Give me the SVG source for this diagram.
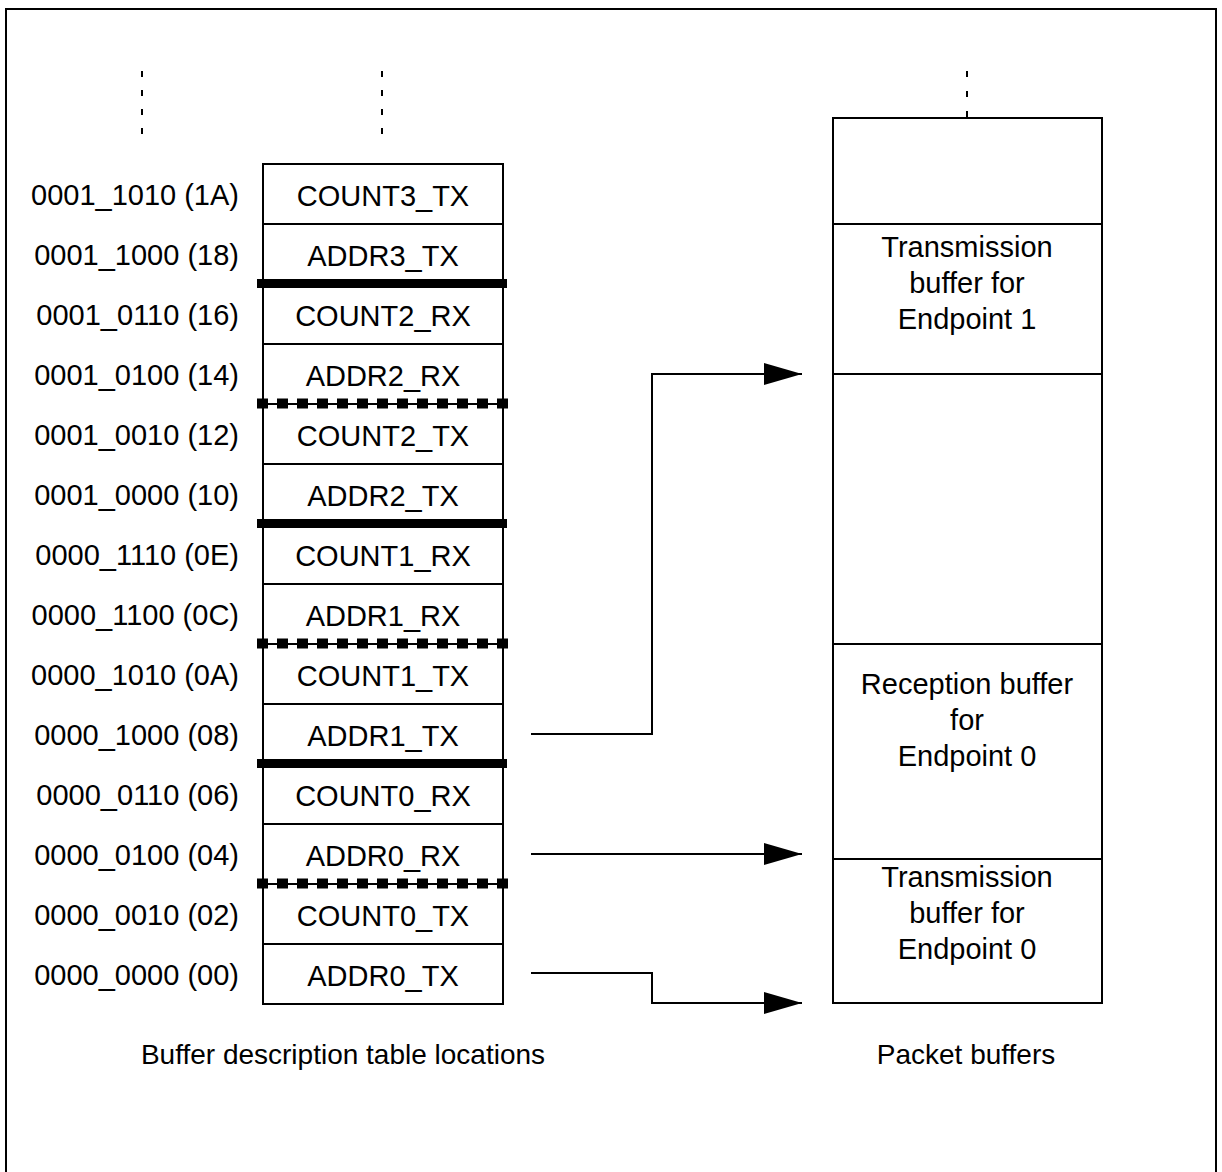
<svg xmlns="http://www.w3.org/2000/svg" width="1222" height="1172" viewBox="0 0 1222 1172">
<defs>
<style>
text{font-family:"Liberation Sans",Arial,sans-serif;font-size:29px;fill:#000}
.addr{text-anchor:end}
.mid{text-anchor:middle}
.cap{font-size:28px}
.box{fill:none;stroke:#000;stroke-width:2}
.thin{stroke:#000;stroke-width:2;fill:none}
.dots{stroke:#000;stroke-width:2;stroke-dasharray:6 13;fill:none}
.thick{stroke:#000;stroke-width:9}
.sq{stroke:#000;stroke-width:10;stroke-dasharray:11 9}
.conn{stroke:#000;stroke-width:2;fill:none;marker-end:url(#arr)}
</style>
<marker id="arr" markerUnits="userSpaceOnUse" markerWidth="38" markerHeight="22" refX="38" refY="11" orient="auto">
<path d="M0,0 L38,11 L0,22 z" fill="#000"/>
</marker>
</defs>
<rect x="6" y="9" width="1210" height="1175" fill="#fff" stroke="#000" stroke-width="2"/>
<path class="dots" d="M142,71 V136 M382,71 V136"/>
<path class="dots" d="M967,71 V118" style="stroke-dasharray:6 14"/>
<g id="addresses">
<text class="addr" x="239" y="205">0001_1010 (1A)</text>
<text class="addr" x="239" y="265">0001_1000 (18)</text>
<text class="addr" x="239" y="325">0001_0110 (16)</text>
<text class="addr" x="239" y="385">0001_0100 (14)</text>
<text class="addr" x="239" y="445">0001_0010 (12)</text>
<text class="addr" x="239" y="505">0001_0000 (10)</text>
<text class="addr" x="239" y="565">0000_1110 (0E)</text>
<text class="addr" x="239" y="625">0000_1100 (0C)</text>
<text class="addr" x="239" y="685">0000_1010 (0A)</text>
<text class="addr" x="239" y="745">0000_1000 (08)</text>
<text class="addr" x="239" y="805">0000_0110 (06)</text>
<text class="addr" x="239" y="865">0000_0100 (04)</text>
<text class="addr" x="239" y="925">0000_0010 (02)</text>
<text class="addr" x="239" y="985">0000_0000 (00)</text>
</g>
<g id="bdt">
<rect class="box" x="263" y="164" width="240" height="840"/>
<path class="thin" d="M263,224 H503 M263,344 H503 M263,464 H503 M263,584 H503 M263,704 H503 M263,824 H503 M263,944 H503 M263,404 H503 M263,644 H503 M263,884 H503"/>
<path class="thick" d="M257,283.5 H507 M257,523.5 H507 M257,763.5 H507"/>
<path class="sq" d="M257,403.5 H508 M257,643.5 H508 M257,883.5 H508"/>
<text class="mid" x="383" y="206">COUNT3_TX</text>
<text class="mid" x="383" y="266">ADDR3_TX</text>
<text class="mid" x="383" y="326">COUNT2_RX</text>
<text class="mid" x="383" y="386">ADDR2_RX</text>
<text class="mid" x="383" y="446">COUNT2_TX</text>
<text class="mid" x="383" y="506">ADDR2_TX</text>
<text class="mid" x="383" y="566">COUNT1_RX</text>
<text class="mid" x="383" y="626">ADDR1_RX</text>
<text class="mid" x="383" y="686">COUNT1_TX</text>
<text class="mid" x="383" y="746">ADDR1_TX</text>
<text class="mid" x="383" y="806">COUNT0_RX</text>
<text class="mid" x="383" y="866">ADDR0_RX</text>
<text class="mid" x="383" y="926">COUNT0_TX</text>
<text class="mid" x="383" y="986">ADDR0_TX</text>
</g>
<g id="packet-buffers">
<rect class="box" x="833" y="118" width="269" height="885"/>
<path class="thin" d="M833,224 H1102 M833,374 H1102 M833,644 H1102 M833,859 H1102"/>
</g>
<g id="tx-ep1">
<text class="mid" x="967" y="257">Transmission</text>
<text class="mid" x="967" y="293">buffer for</text>
<text class="mid" x="967" y="329">Endpoint 1</text>
</g>
<g id="rx-ep0">
<text class="mid" x="967" y="694">Reception buffer</text>
<text class="mid" x="967" y="730">for</text>
<text class="mid" x="967" y="766">Endpoint 0</text>
</g>
<g id="tx-ep0">
<text class="mid" x="967" y="887">Transmission</text>
<text class="mid" x="967" y="923">buffer for</text>
<text class="mid" x="967" y="959">Endpoint 0</text>
</g>
<g id="connectors">
<path class="conn" d="M531,734 H652 V374 H802"/>
<path class="conn" d="M531,854 H802"/>
<path class="conn" d="M531,973 H652 V1003 H802"/>
</g>
<g id="captions">
<text class="mid cap" x="343" y="1064">Buffer description table locations</text>
<text class="mid cap" x="966" y="1064">Packet buffers</text>
</g>
</svg>
